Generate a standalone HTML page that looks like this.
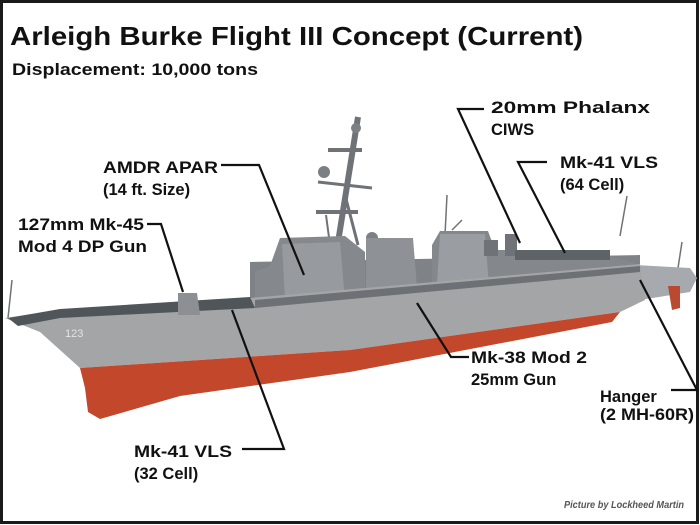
<!DOCTYPE html>
<html><head><meta charset="utf-8"><style>
html,body{margin:0;padding:0;background:#fff}
svg{display:block}
text{font-family:"Liberation Sans",Arial,sans-serif;font-weight:bold;fill:#111}
</style></head><body>
<svg width="700" height="525" viewBox="0 0 700 525" xmlns="http://www.w3.org/2000/svg">
<rect x="0" y="0" width="700" height="525" fill="#fff"/>
<rect x="1.5" y="1.5" width="696" height="521" fill="none" stroke="#1a1a1a" stroke-width="3"/>
<text x="10" y="45" font-size="26" textLength="573" lengthAdjust="spacingAndGlyphs">Arleigh Burke Flight III Concept (Current)</text>
<text x="12" y="75" font-size="16.5" textLength="246" lengthAdjust="spacingAndGlyphs">Displacement: 10,000 tons</text>

<!-- mast -->
<g stroke="#6f7377" fill="none">
<line x1="358" y1="117" x2="336" y2="255" stroke-width="6"/>
<line x1="328" y1="150" x2="362" y2="150" stroke-width="4"/>
<line x1="318" y1="182" x2="372" y2="188" stroke-width="3"/>
<line x1="316" y1="212" x2="358" y2="212" stroke-width="4"/>
<line x1="345" y1="195" x2="358" y2="245" stroke-width="3"/>
<line x1="326" y1="215" x2="330" y2="245" stroke-width="2"/>
<line x1="447" y1="195" x2="445" y2="235" stroke-width="1.5"/>
<line x1="452" y1="230" x2="462" y2="220" stroke-width="1.5"/>
<line x1="627" y1="196" x2="620" y2="236" stroke-width="1.5"/>
<line x1="682" y1="242" x2="678" y2="268" stroke-width="1.5"/>
<line x1="12" y1="280" x2="8" y2="318" stroke-width="1.5"/>
</g>
<circle cx="324" cy="172" r="6" fill="#7c8084"/>
<circle cx="356" cy="128" r="5" fill="#7c8084"/>
<circle cx="372" cy="238" r="6" fill="#7c8084"/>
<!-- superstructures -->
<polygon points="250,262 640,255 640,300 250,310" fill="#7f8387"/>
<polygon points="280,238 345,236 365,252 365,305 255,305 255,272 270,266" fill="#85898d"/>
<polygon points="282,244 340,242 345,300 285,300" fill="#979b9f"/>
<polygon points="366,238 413,238 418,300 366,300" fill="#8e9296"/>
<polygon points="440,231 488,231 495,250 515,250 515,256 610,256 635,263 635,300 432,300 432,245" fill="#84888c"/>
<polygon points="440,234 485,234 490,300 436,300" fill="#9a9ea2"/>
<rect x="484" y="240" width="14" height="16" fill="#6f7377"/>
<rect x="505" y="234" width="12" height="22" fill="#6f7377"/>
<rect x="515" y="250" width="95" height="10" fill="#5e6367"/>
<!-- stern area -->
<polygon points="635,265 690,268 697,278 690,292 640,300" fill="#a6aaae"/>
<polygon points="668,286 680,286 680,308 672,310" fill="#b94a30"/>
<!-- hull -->
<polygon points="5,318 60,310 250,298 640,264 645,300 620,312 350,350 80,368 40,332" fill="#a3a5a6"/>
<polygon points="8,318 60,309 250,297 255,308 60,318 18,326" fill="#50555a"/>
<polygon points="255,300 640,266 640,272 255,308" fill="#6d7175"/>
<polygon points="80,368 350,350 620,312 612,322 350,372 180,396 100,419 88,412 85,388" fill="#c2472b"/>
<polygon points="178,293 197,293 200,315 178,315" fill="#8c9094"/>
<text x="65" y="337" font-size="11" style="fill:#e4e4e4;font-weight:normal">123</text>

<!-- leader lines -->
<g stroke="#111" stroke-width="2.2" fill="none">
<polyline points="484,109 458,109 520,243"/>
<polyline points="547,162 518,162 565,253"/>
<polyline points="221,165 259,165 304,275"/>
<polyline points="147,224 161,224 183,292"/>
<polyline points="242,449 284,449 232,310"/>
<polyline points="469,357 451,357 417,303"/>
<polyline points="671,390 697,390 640,280"/>
</g>

<!-- labels -->
<g font-size="16.5">
<text x="491" y="113" textLength="159" lengthAdjust="spacingAndGlyphs">20mm Phalanx</text>
<text x="491" y="135">CIWS</text>
<text x="560" y="168" textLength="98" lengthAdjust="spacingAndGlyphs">Mk-41 VLS</text>
<text x="560" y="190">(64 Cell)</text>
<text x="103" y="173" textLength="115" lengthAdjust="spacingAndGlyphs">AMDR APAR</text>
<text x="103" y="195">(14 ft. Size)</text>
<text x="18" y="230" textLength="126" lengthAdjust="spacingAndGlyphs">127mm Mk-45</text>
<text x="18" y="252" textLength="129" lengthAdjust="spacingAndGlyphs">Mod 4 DP Gun</text>
<text x="471" y="363" textLength="116" lengthAdjust="spacingAndGlyphs">Mk-38 Mod 2</text>
<text x="471" y="385">25mm Gun</text>
<text x="600" y="402">Hanger</text>
<text x="600" y="420" textLength="94" lengthAdjust="spacingAndGlyphs">(2 MH-60R)</text>
<text x="134" y="457" textLength="98" lengthAdjust="spacingAndGlyphs">Mk-41 VLS</text>
<text x="134" y="479">(32 Cell)</text>
</g>
<text x="564" y="508" font-size="10" font-style="italic" font-weight="normal" style="fill:#555" textLength="120" lengthAdjust="spacingAndGlyphs">Picture by Lockheed Martin</text>
</svg>
</body></html>
